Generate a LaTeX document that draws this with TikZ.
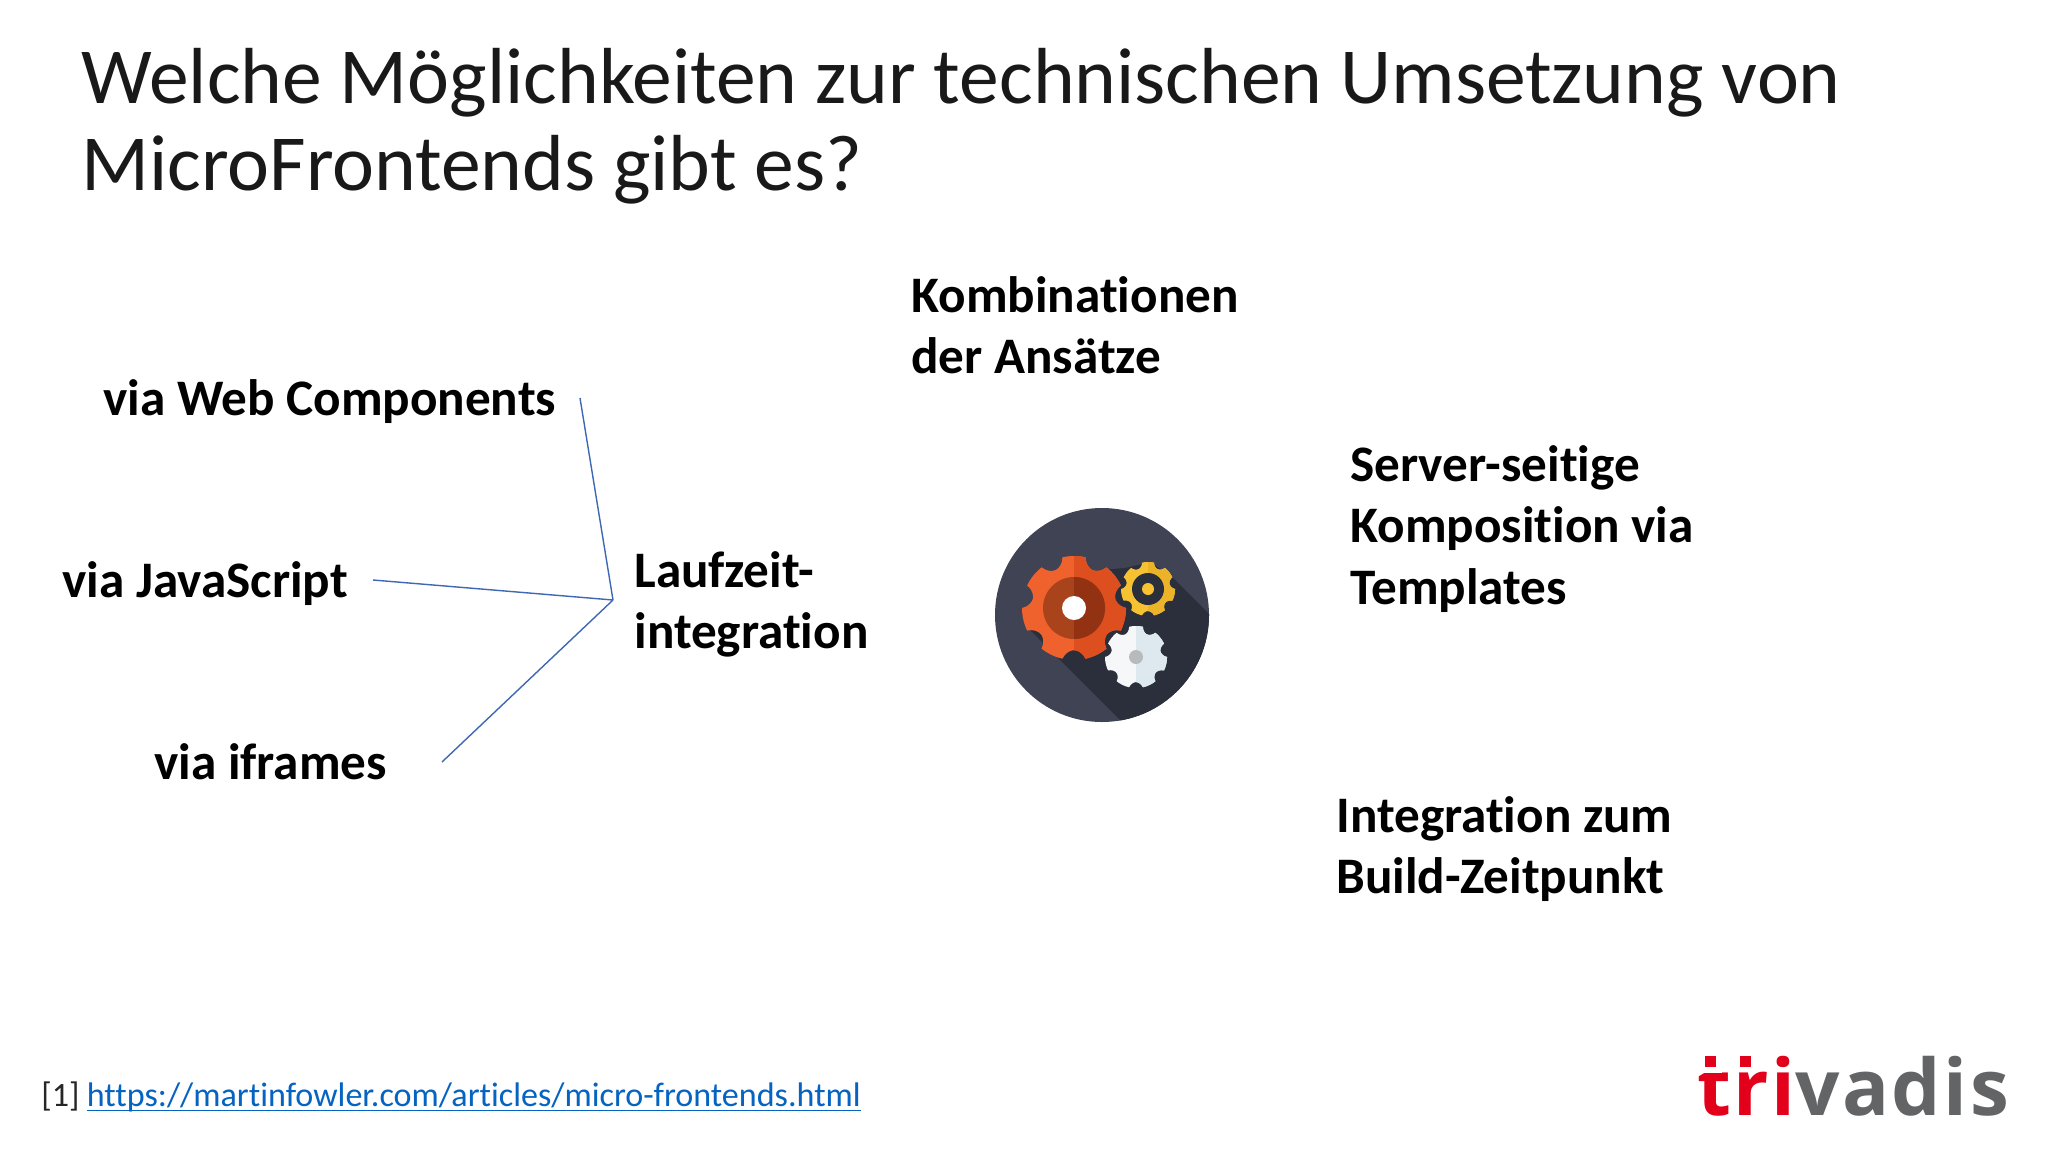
\documentclass[tikz,border=0pt]{standalone}
\usepackage{fontspec}
\setmainfont[Ligatures=NoCommon]{Carlito}
\newfontfamily\logofont[LetterSpace=3.2]{Open Sans}
\usepackage{xcolor}
\usepackage{tikz}
\definecolor{hubblue}{HTML}{3F68B4}
\definecolor{urlblue}{HTML}{0563C1}
\definecolor{discdark}{HTML}{3F4354}
\definecolor{discshadow}{HTML}{2A2F3B}
\definecolor{logored}{HTML}{E2001A}
\definecolor{logogrey}{HTML}{636466}
\definecolor{gearorange}{HTML}{F0622D}
\definecolor{gearorangedk}{HTML}{DE4F20}
\definecolor{ringorange}{HTML}{A8431C}
\definecolor{ringorangedk}{HTML}{923213}
\definecolor{gearyellow}{HTML}{F7C231}
\definecolor{gearyellowdk}{HTML}{EBB22A}
\definecolor{gearwhite}{HTML}{F5F7F8}
\definecolor{gearwhitedk}{HTML}{DDE9EE}
\definecolor{geargrey}{HTML}{B8BBBC}
\tikzstyle{heading}=[%
      anchor=north west, inner sep=0pt, align=left, text=black!90,
      font=\fontsize{39.75}{43.2}\selectfont
]
\tikzstyle{lbl}=[%
      anchor=north west, inner sep=0pt, align=left, text=black,
      font=\fontsize{25.6}{30.8}\selectfont\bfseries
]
\tikzstyle{hubline}=[%
      draw=hubblue, line width=0.7pt
]
\tikzstyle{reftext}=[%
      anchor=base west, inner sep=0pt, font=\fontsize{17.05}{20}\selectfont
]
\newcommand{\gearfill}[6]{%
  \fill[#6] plot[domain=0:360, samples=197, variable=\t]
    ({#1+(#3-#4*sqrt(max(0,cos(7*(\t-#5))-0.05)))*cos(\t)},
     {#2+(#3-#4*sqrt(max(0,cos(7*(\t-#5))-0.05)))*sin(\t)}) -- cycle;
}
\newcommand{\halfgear}[7]{%
  \gearfill{#1}{#2}{#3}{#4}{90}{#5}
  \begin{scope}
    \clip (#6,#2-60) rectangle (#6+80,#2+60);
    \gearfill{#1}{#2}{#3}{#4}{90}{#7}
  \end{scope}
}
\begin{document}
\begin{tikzpicture}[x=0.5pt, y=-0.5pt]
    \useasboundingbox (0,0) rectangle (2048,1152);
    \fill[white] (0,0) rectangle (2048,1152);

    \node[heading] (title) at (81,48) {Welche Möglichkeiten zur technischen Umsetzung von\\MicroFrontends gibt es?};

    \node[lbl] (web)     at (103,379) {via Web Components};
    \node[lbl] (js)      at (62,561)  {via JavaScript};
    \node[lbl] (iframes) at (154,743) {via iframes};
    \node[lbl] (run)     at (634,551) {Laufzeit-\\integration};
    \node[lbl] (combo)   at (911,276) {Kombinationen\\der Ansätze};
    \node[lbl] (server)  at (1350,445) {Server-seitige\\Komposition via\\Templates};
    \node[lbl] (build)   at (1336,796) {Integration zum\\Build-Zeitpunkt};

    \coordinate (webend) at (580,398);
    \coordinate (jsend) at (373,580);
    \coordinate (iframesend) at (442,762);
    \coordinate (hub) at (613,600);
    \path[hubline] (webend) edge (hub)
          (jsend) edge (hub)
          (iframesend) edge (hub)
    ;

    \fill[discdark] (1102,615) circle [radius=107];
    \begin{scope}
      \clip (1102,615) circle [radius=107];
      \fill[discshadow] (1030,630) -- (1150,750) -- (1250,750) -- (1250,655) -- (1172,577) -- (1150,562) -- (1125,568) -- (1100,570) -- cycle;
    \end{scope}
    \halfgear{1074}{608}{52}{10}{gearorange}{1074}{gearorangedk}
    \fill[ringorange] (1074,608) circle [radius=31];
    \begin{scope}
      \clip (1074,550) rectangle (1110,670);
      \fill[ringorangedk] (1074,608) circle [radius=31];
    \end{scope}
    \fill[white] (1074,608) circle [radius=12];
    \halfgear{1148}{589}{27}{5}{gearyellow}{1148}{gearyellowdk}
    \fill[discshadow] (1148,589) circle [radius=16];
    \fill[gearyellow] (1148,589) circle [radius=6];
    \halfgear{1136}{657}{31}{6}{gearwhite}{1136}{gearwhitedk}
    \fill[geargrey] (1136,657) circle [radius=7];

    \node[reftext, text=black!85] (ref) at (41,1106) {[1]};
    \node[reftext, text=urlblue] (url) at (86.5,1106) {https://martinfowler.com/articles/micro-frontends.html};
    \draw[urlblue, line width=0.9pt] ([yshift=-2.2pt]url.base west) -- ([yshift=-2.2pt]url.base east);

    \node[anchor=base west, inner sep=0pt, font=\fontsize{39}{46}\logofont\bfseries] (logo) at (1697,1115) {\textcolor{logored}{tri}\textcolor{logogrey}{vadis}};
    \fill[white] (1700,1067) rectangle (1722,1073);
    \fill[logored] (1705,1056) rectangle (1716,1067);
    \fill[logored] (1740,1056) rectangle (1751,1067);
\end{tikzpicture}
\end{document}
